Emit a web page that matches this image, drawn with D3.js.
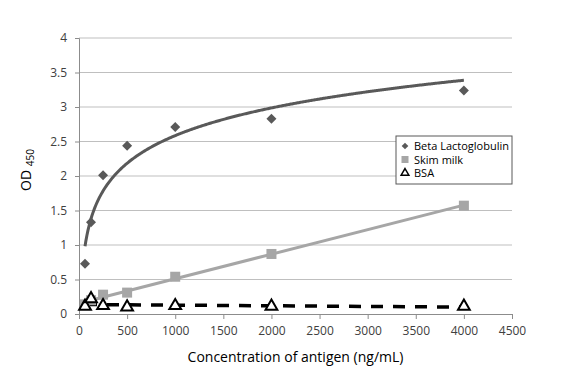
<!DOCTYPE html>
<html>
<head>
<meta charset="utf-8">
<script src="https://cdn.jsdelivr.net/npm/d3@7"></script>
<style>
  body { margin: 0; background: #fff; }
  text { font-family: "Open Sans", sans-serif; fill: #404040; }
</style>
</head>
<body>
<svg id="chart"></svg>
<script>
  const width = 582;
  const height = 382;

  // antigen concentrations (ng/mL)
  const conc = [62.5, 125, 250, 500, 1000, 2000, 4000];
  const betaLacto = [0.73, 1.33, 2.01, 2.44, 2.71, 2.83, 3.24];
  const skimMilk = [0.14, 0.2, 0.28, 0.31, 0.54, 0.87, 1.57];
  const bsa = [0.11, 0.22, 0.12, 0.1, 0.12, 0.11, 0.11];

  const xTicks = [0, 500, 1000, 1500, 2000, 2500, 3000, 3500, 4000, 4500];
  const yTicks = [0, 0.5, 1, 1.5, 2, 2.5, 3, 3.5, 4];

  const margin = {left: 79, right: 70, top: 38, bottom: 68};

  const svg = d3.select("#chart")
      .attr("width", width)
      .attr("height", height);

  const x = d3.scaleLinear().domain([0, 4500]).range([margin.left, width - margin.right]);
  const y = d3.scaleLinear().domain([0, 4]).range([height - margin.bottom, margin.top]);

  // least squares fits for the trendlines
  function linFit(xs, ys) {
    const mx = d3.mean(xs), my = d3.mean(ys);
    let sxy = 0, sxx = 0;
    xs.forEach((v, i) => { sxy += (v - mx) * (ys[i] - my); sxx += (v - mx) * (v - mx); });
    const a = sxy / sxx;
    return {a: a, b: my - a * mx};
  }
  const logFit = linFit(conc.map(Math.log), betaLacto);
  const skimFit = linFit(conc, skimMilk);
  const bsaFit = linFit(conc, bsa);

  // gridlines
  svg.append("g")
      .selectAll("line")
      .data(yTicks.filter(d => d > 0))
      .enter().append("line")
      .attr("x1", x(0)).attr("x2", x(4500))
      .attr("y1", d => y(d)).attr("y2", d => y(d))
      .attr("stroke", "#bfbfbf")
      .attr("stroke-width", 1);

  // axes
  const xAxis = svg.append("g")
      .attr("transform", `translate(0,${y(0)})`)
      .call(d3.axisBottom(x).tickValues(xTicks).tickSize(5).tickPadding(7).tickFormat(d3.format("d")));
  const yAxis = svg.append("g")
      .attr("transform", `translate(${x(0)},0)`)
      .call(d3.axisLeft(y).tickValues(yTicks).tickSize(4).tickPadding(8).tickFormat(d => d));
  [xAxis, yAxis].forEach(g => {
    g.select(".domain").attr("stroke", "#8c8c8c");
    g.selectAll(".tick line").attr("stroke", "#8c8c8c");
    g.selectAll(".tick text").style("font-size", "12px").attr("fill", "#404040");
  });

  // trendlines
  const xs = d3.range(62.5, 4001, 10);
  xs.push(4000);
  svg.append("path")
      .datum(xs)
      .attr("fill", "none")
      .attr("stroke", "#595959")
      .attr("stroke-width", 3)
      .attr("d", d3.line().x(d => x(d)).y(d => y(logFit.a * Math.log(d) + logFit.b)));

  svg.append("path")
      .datum([62.5, 4000])
      .attr("fill", "none")
      .attr("stroke", "#a6a6a6")
      .attr("stroke-width", 3)
      .attr("d", d3.line().x(d => x(d)).y(d => y(skimFit.a * d + skimFit.b)));

  svg.append("path")
      .datum([62.5, 4000])
      .attr("fill", "none")
      .attr("stroke", "#000")
      .attr("stroke-width", 3.5)
      .attr("stroke-dasharray", "12,10")
      .attr("d", d3.line().x(d => x(d)).y(d => y(bsaFit.a * d + bsaFit.b)));

  // markers
  const diamond = d3.symbol().type(d3.symbolSquare).size(50);
  svg.append("g").selectAll("path")
      .data(conc.map((c, i) => [c, betaLacto[i]]))
      .enter().append("path")
      .attr("d", diamond)
      .attr("transform", d => `translate(${x(d[0])},${y(d[1])}) rotate(45)`)
      .attr("fill", "#595959");

  svg.append("g").selectAll("rect")
      .data(conc.map((c, i) => [c, skimMilk[i]]))
      .enter().append("rect")
      .attr("x", d => x(d[0]) - 5).attr("y", d => y(d[1]) - 5)
      .attr("width", 10).attr("height", 10)
      .attr("fill", "#a6a6a6");

  const tri = d3.symbol().type(d3.symbolTriangle).size(60);
  svg.append("g").selectAll("path")
      .data(conc.map((c, i) => [c, bsa[i]]))
      .enter().append("path")
      .attr("d", tri)
      .attr("transform", d => `translate(${x(d[0])},${y(d[1])})`)
      .attr("fill", "#fff")
      .attr("stroke", "#000")
      .attr("stroke-width", 2);

  // axis titles
  svg.append("text")
      .attr("x", (x(0) + x(4500)) / 2)
      .attr("y", 362)
      .attr("text-anchor", "middle")
      .style("font-size", "14px")
      .style("fill", "#000")
      .text("Concentration of antigen (ng/mL)");

  const yTitle = svg.append("text")
      .attr("transform", "translate(31,170) rotate(-90)")
      .attr("text-anchor", "middle")
      .style("fill", "#000")
      .style("font-size", "14px");
  yTitle.append("tspan").text("OD ");
  yTitle.append("tspan").style("font-size", "10px").attr("dy", 3).text("450");

  // legend
  const legend = svg.append("g").attr("transform", "translate(396,136)");
  legend.append("rect")
      .attr("width", 116).attr("height", 48)
      .attr("fill", "#fff")
      .attr("stroke", "#595959");
  const items = ["Beta Lactoglobulin", "Skim milk", "BSA"];
  items.forEach((name, i) => {
    const cy = 10 + i * 13.5;
    if (i === 0) {
      legend.append("path").attr("d", d3.symbol().type(d3.symbolSquare).size(22))
          .attr("transform", `translate(9,${cy}) rotate(45)`).attr("fill", "#595959");
    } else if (i === 1) {
      legend.append("rect").attr("x", 5.5).attr("y", cy - 3.5).attr("width", 7).attr("height", 7).attr("fill", "#a6a6a6");
    } else {
      legend.append("path").attr("d", d3.symbol().type(d3.symbolTriangle).size(26))
          .attr("transform", `translate(9,${cy})`).attr("fill", "#fff").attr("stroke", "#000").attr("stroke-width", 1.5);
    }
    legend.append("text")
        .attr("x", 18).attr("y", cy + 4)
        .style("font-size", "11px")
        .style("fill", "#000")
        .text(name);
  });
</script>
</body>
</html>
